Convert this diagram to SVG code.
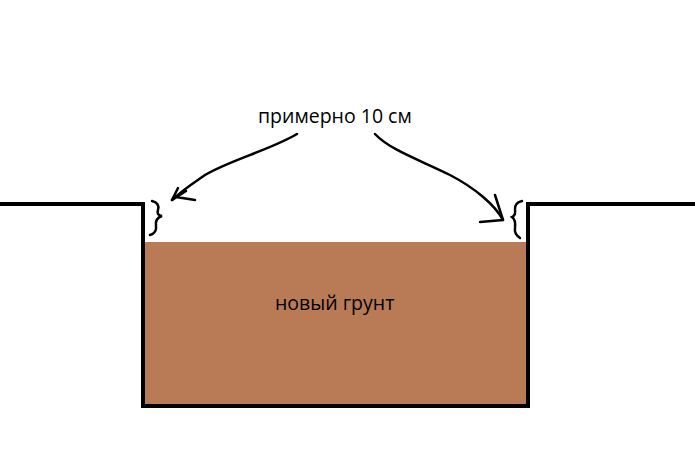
<svg xmlns="http://www.w3.org/2000/svg" width="695" height="463" viewBox="0 0 695 463">
<style>.t{font-family:"Open Sans","Noto Sans",sans-serif;font-size:19.5px;fill:#000}.a{fill:none;stroke:#000;stroke-width:2.5;stroke-linecap:round}</style>
<rect width="695" height="463" fill="#fff"/>
<g id="soil"><rect x="145" y="242" width="382" height="163" fill="#b97a56"/></g>
<g id="pit"><path d="M0 204 H143 V406 H528 V204 H695" fill="none" stroke="#000" stroke-width="4"/></g>
<g id="connectors">
<path class="a" d="M297 134 C270 150 230 160 205 175 C195 182 185 188 172 200"/>
<path class="a" d="M172 200 L186 191 M172 200 L178 188 M176 197 L195 200"/>
<path class="a" d="M152 201 Q160 203 158 210 Q156 215 162 216 Q155 218 156 226 Q157 233 150 235"/>
<path class="a" d="M375 134 C390 150 420 160 450 175 C475 188 495 205 503 220"/>
<path class="a" d="M503 220 L495 195 M503 220 L480 222"/>
<path class="a" d="M522 201 Q514 203 515 210 Q516 215 512 217 Q516 220 515 228 Q514 234 520 238"/>
</g>
<g id="labels">
<text class="t" x="258" y="123">примерно 10 см</text>
<text class="t" x="275" y="310">новый грунт</text>
</g>
</svg>
